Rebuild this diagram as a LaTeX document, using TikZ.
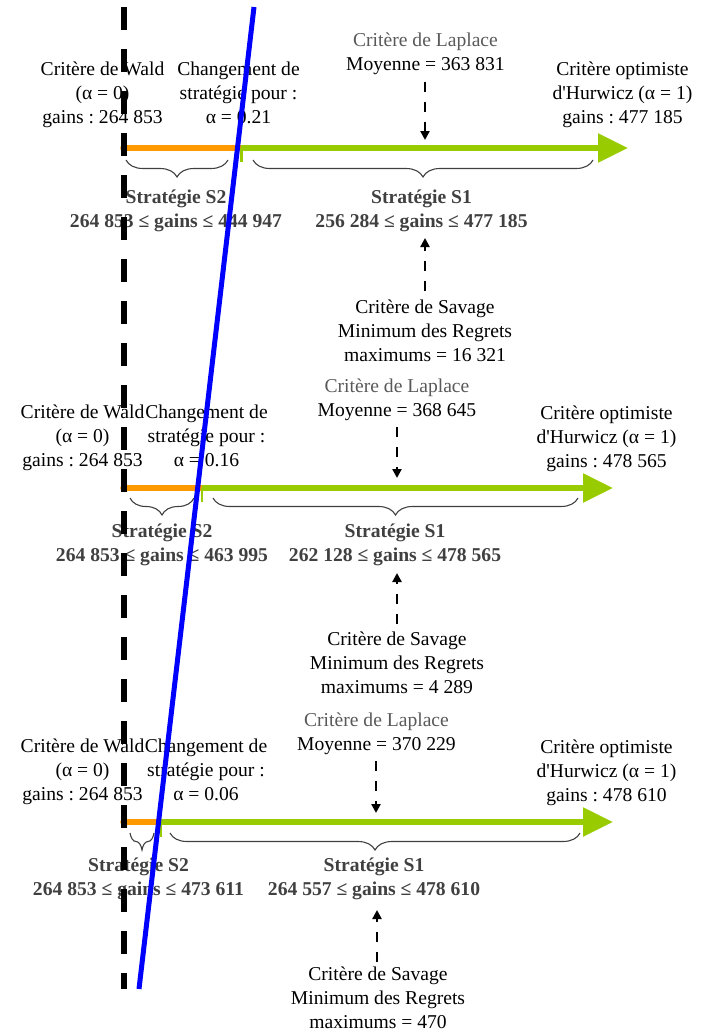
\documentclass[tikz,border=0pt]{standalone}
\usepackage{fontspec}
\setmainfont{Liberation Serif}
\newfontfamily\plainfont{Liberation Serif}
\usetikzlibrary{arrows.meta,decorations.pathreplacing}
\definecolor{lgreen}{RGB}{153,204,0}
\definecolor{lorange}{RGB}{255,153,0}
\definecolor{lapgray}{RGB}{89,89,89}
\definecolor{boldgray}{RGB}{64,64,64}
\definecolor{bracegray}{RGB}{64,64,64}
\newcommand{\apos}{{\plainfont'}}
\tikzset{
  txt/.style={font=\fontsize{19.6pt}{24pt}\selectfont\frenchspacing, align=center, inner sep=0pt, anchor=north, text=black},
  bld/.style={font=\fontsize{19.6pt}{24pt}\selectfont\bfseries\frenchspacing, align=center, inner sep=0pt, anchor=north, text=boldgray},
  orangeline/.style={draw=lorange, line width=5.5pt, line cap=round},
  greenline/.style={draw=lgreen, line width=5.5pt, -{Triangle[length=30pt,width=28pt]}},
  greentick/.style={draw=lgreen, line width=2.6pt},
  bracestyle/.style={draw=bracegray, line width=1.1pt, decorate, decoration={brace, mirror, amplitude=17pt, aspect=0.5}},
  dasharr/.style={draw=black, line width=2.6pt, dash pattern=on 10pt off 10pt, -{Triangle[length=9pt,width=9pt]}},
  blackdash/.style={draw=black, line width=6pt, dash pattern=on 23pt off 19pt},
  blueline/.style={draw=blue, line width=5pt}
}
\begin{document}
\begin{tikzpicture}[x=1pt,y=-1pt]
\useasboundingbox (0,0) rectangle (708,1031);
% ---------------- Section 1 ----------------
\node[txt] (wald1) at (102.5,58) {\strut Critère de Wald\\(α = 0)\\gains : 264 853\strut};
\node[txt] (chg1) at (238.5,58) {\strut Changement de\\stratégie pour :\\α = 0.21\strut};
\node[txt] (lap1) at (425.5,29) {\strut\textcolor{lapgray}{Critère de Laplace}\\Moyenne = 363 831\strut};
\node[txt] (hur1) at (622.5,58) {\strut Critère optimiste\\d\apos Hurwicz (α = 1)\\gains : 477 185\strut};
\node[bld] (s2a) at (176,186) {\strut Stratégie S2\\264 853 ≤ gains ≤ 444 947\strut};
\node[bld] (s1a) at (421.5,186) {\strut Stratégie S1\\256 284 ≤ gains ≤ 477 185\strut};
\node[txt] (sav1) at (425,296) {\strut Critère de Savage\\Minimum des Regrets\\maximums = 16 321\strut};
\coordinate (o1) at (123,148);
\coordinate (c1) at (241,148);
\coordinate (e1) at (628,148);
\coordinate (k1) at (241.5,162);
\coordinate (td1) at (425,140);
\coordinate (tu1) at (425,238);
\coordinate (b2l1) at (126,160); \coordinate (b2r1) at (228,160);
\coordinate (b1l1) at (253,160); \coordinate (b1r1) at (593,160);
\draw[orangeline] (o1) -- (c1);
\draw[greenline] (c1) -- (e1);
\draw[greentick] (c1 -| k1) -- (k1);
\draw[bracestyle] (b2l1) -- (b2r1);
\draw[bracestyle] (b1l1) -- (b1r1);
\draw[dasharr, shorten <=5pt] (lap1.south -| td1) -- (td1);
\draw[dasharr, shorten <=5pt] (sav1.north -| tu1) -- (tu1);
% ---------------- Section 2 ----------------
\node[txt] (wald2) at (82.5,401) {\strut Critère de Wald\\(α = 0)\\gains : 264 853\strut};
\node[txt] (chg2) at (206.5,401) {\strut Changement de\\stratégie pour :\\α = 0.16\strut};
\node[txt] (lap2) at (397,375) {\strut\textcolor{lapgray}{Critère de Laplace}\\Moyenne = 368 645\strut};
\node[txt] (hur2) at (606.5,402) {\strut Critère optimiste\\d\apos Hurwicz (α = 1)\\gains : 478 565\strut};
\node[bld] (s2b) at (162,520) {\strut Stratégie S2\\264 853 ≤ gains ≤ 463 995\strut};
\node[bld] (s1b) at (395,520) {\strut Stratégie S1\\262 128 ≤ gains ≤ 478 565\strut};
\node[txt] (sav2) at (397,628) {\strut Critère de Savage\\Minimum des Regrets\\maximums = 4 289\strut};
\coordinate (o2) at (123,488);
\coordinate (c2) at (202,488);
\coordinate (e2) at (613,488);
\coordinate (k2) at (202,502);
\coordinate (td2) at (397,478);
\coordinate (tu2) at (397,573);
\coordinate (b2l2) at (130,498); \coordinate (b2r2) at (194,498);
\coordinate (b1l2) at (213,498); \coordinate (b1r2) at (578,498);
\draw[orangeline] (o2) -- (c2);
\draw[greenline] (c2) -- (e2);
\draw[greentick] (c2 -| k2) -- (k2);
\draw[bracestyle] (b2l2) -- (b2r2);
\draw[bracestyle] (b1l2) -- (b1r2);
\draw[dasharr, shorten <=4pt] (lap2.south -| td2) -- (td2);
\draw[dasharr, shorten <=4pt] (sav2.north -| tu2) -- (tu2);
% ---------------- Section 3 ----------------
\node[txt] (wald3) at (82.5,735) {\strut Critère de Wald\\(α = 0)\\gains : 264 853\strut};
\node[txt] (chg3) at (206,735) {\strut Changement de\\stratégie pour :\\α = 0.06\strut};
\node[txt] (lap3) at (376.5,709) {\strut\textcolor{lapgray}{Critère de Laplace}\\Moyenne = 370 229\strut};
\node[txt] (hur3) at (606.5,736) {\strut Critère optimiste\\d\apos Hurwicz (α = 1)\\gains : 478 610\strut};
\node[bld] (s2c) at (138.5,854) {\strut Stratégie S2\\264 853 ≤ gains ≤ 473 611\strut};
\node[bld] (s1c) at (374,854) {\strut Stratégie S1\\264 557 ≤ gains ≤ 478 610\strut};
\node[txt] (sav3) at (378,963) {\strut Critère de Savage\\Minimum des Regrets\\maximums = 470\strut};
\coordinate (o3) at (123,822);
\coordinate (c3) at (161,822);
\coordinate (e3) at (613,822);
\coordinate (k3) at (161,837);
\coordinate (td3) at (376,813);
\coordinate (tu3) at (377,910);
\coordinate (b2l3) at (130,833); \coordinate (b2r3) at (154,833);
\coordinate (b1l3) at (170,833); \coordinate (b1r3) at (580,833);
\draw[orangeline] (o3) -- (c3);
\draw[greenline] (c3) -- (e3);
\draw[greentick] (c3 -| k3) -- (k3);
\draw[bracestyle] (b2l3) -- (b2r3);
\draw[bracestyle] (b1l3) -- (b1r3);
\draw[dasharr, shorten <=4pt] (lap3.south -| td3) -- (td3);
\draw[dasharr, shorten <=1pt] (sav3.north -| tu3) -- (tu3);
% ---------------- overlay lines ----------------
\coordinate (vt) at (123.5,7);
\coordinate (vb) at (123.5,989);
\coordinate (bt) at (254,7);
\coordinate (bb) at (139,989);
\draw[blackdash] (vt) -- (vb);
\draw[blueline] (bt) -- (bb);
\end{tikzpicture}
\end{document}
